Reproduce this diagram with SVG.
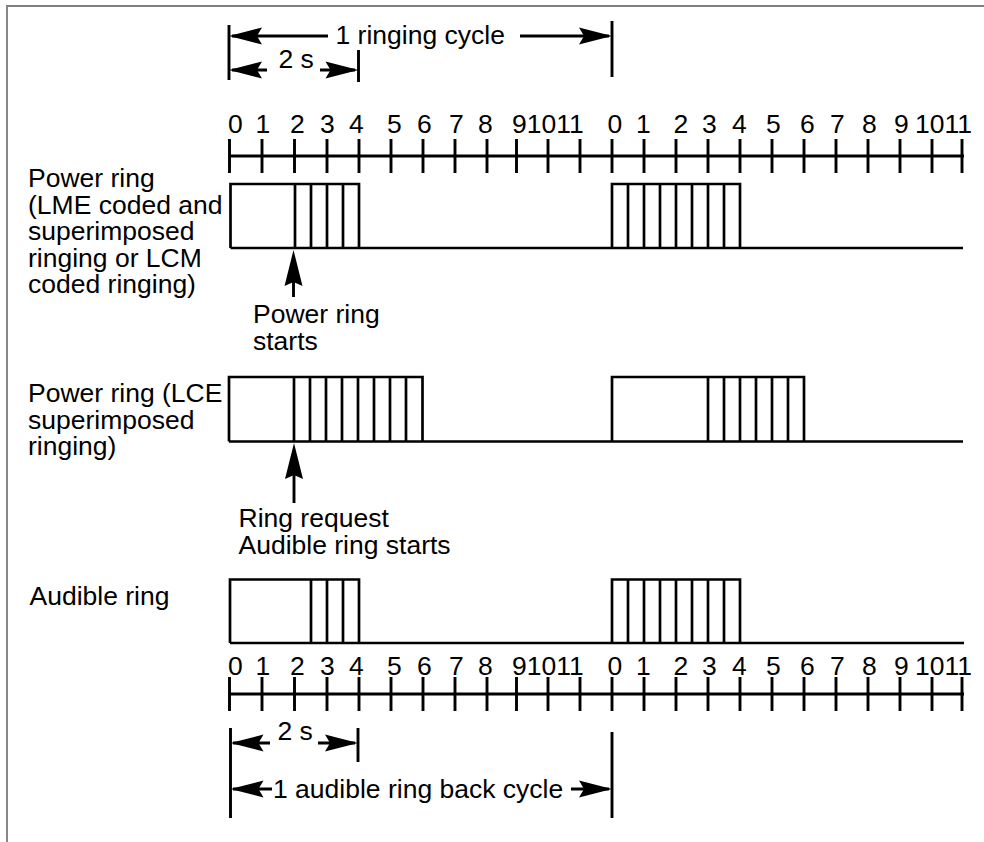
<svg xmlns="http://www.w3.org/2000/svg" xmlns:xlink="http://www.w3.org/1999/xlink" width="984" height="842" viewBox="0 0 984 842">
<style>
  text { font-family: "Liberation Sans", Arial, sans-serif; font-size: 26.5px; fill: #000; }
  .ln { stroke: #000; stroke-width: 2.9; fill: none; }
  .th { stroke: #000; stroke-width: 2.7; fill: none; }
  .ah { fill: #000; stroke: none; }
</style>
<defs>
  <path id="ahR" d="M0,0 L-33,-8.5 L-28,0 L-33,8.5 Z"/>
  <path id="ahUp" d="M0,0 L-9,36 L0,32 L9,36 Z"/>
  <path id="ticks" d="M229.5,-17 V17 M262,-17 V17 M294.5,-17 V17 M327,-17 V17 M359,-17 V17 M391,-17 V17 M423,-17 V17 M455,-17 V17 M487,-17 V17 M516.5,-17 V17 M548,-17 V17 M580,-17 V17 M612,-17 V17 M644,-17 V17 M676,-17 V17 M708,-17 V17 M740,-17 V17 M772,-17 V17 M804,-17 V17 M836,-17 V17 M868,-17 V17 M900,-17 V17 M932,-17 V17 M962,-17 V17 M229.5,0 H964"/>
</defs>

<g id="frame">
  <line x1="6" y1="6" x2="984" y2="6" stroke="#000" stroke-width="1.2"/>
  <line x1="7" y1="6" x2="7" y2="842" stroke="#888" stroke-width="2"/>
</g>

<g id="axis-top">
  <use xlink:href="#ticks" href="#ticks" class="ln" transform="translate(0,156)"/>
  <text y="133"><tspan x="228">0</tspan><tspan x="255.5">1</tspan><tspan x="290">2</tspan><tspan x="320">3</tspan><tspan x="349">4</tspan><tspan x="387">5</tspan><tspan x="417">6</tspan><tspan x="449">7</tspan><tspan x="478">8</tspan><tspan x="512">91011</tspan><tspan x="607.5">0</tspan><tspan x="636">1</tspan><tspan x="673.5">2</tspan><tspan x="702">3</tspan><tspan x="732">4</tspan><tspan x="766">5</tspan><tspan x="800">6</tspan><tspan x="830">7</tspan><tspan x="862">8</tspan><tspan x="894">9</tspan><tspan x="915">1011</tspan></text>
</g>

<g id="axis-bottom">
  <use xlink:href="#ticks" href="#ticks" class="ln" transform="translate(0,694)"/>
  <text y="675"><tspan x="228">0</tspan><tspan x="255.5">1</tspan><tspan x="290">2</tspan><tspan x="320">3</tspan><tspan x="349">4</tspan><tspan x="387">5</tspan><tspan x="417">6</tspan><tspan x="449">7</tspan><tspan x="478">8</tspan><tspan x="512">91011</tspan><tspan x="607.5">0</tspan><tspan x="636">1</tspan><tspan x="673.5">2</tspan><tspan x="702">3</tspan><tspan x="732">4</tspan><tspan x="766">5</tspan><tspan x="800">6</tspan><tspan x="830">7</tspan><tspan x="862">8</tspan><tspan x="894">9</tspan><tspan x="915">1011</tspan></text>
</g>

<g id="row-power-lme">
  <text><tspan x="28" y="187">Power ring</tspan><tspan x="28" y="213.5">(LME coded and</tspan><tspan x="28" y="240">superimposed</tspan><tspan x="28" y="266.5">ringing or LCM</tspan><tspan x="28" y="293">coded ringing)</tspan></text>
  <path class="th" d="M230.5,248 H963 M230.5,248 V184 H359 V248 M295,184 V248 M311,184 V248 M327,184 V248 M343,184 V248"/>
  <path class="th" d="M612,248 V184 H740 V248 M628,184 V248 M644,184 V248 M660,184 V248 M676,184 V248 M692,184 V248 M708,184 V248 M724,184 V248"/>
</g>

<g id="row-power-lce">
  <text><tspan x="28" y="402">Power ring (LCE</tspan><tspan x="28" y="428.5">superimposed</tspan><tspan x="28" y="455">ringing)</tspan></text>
  <path class="th" d="M229,441.5 H963 M229,441.5 V377 H422.5 V441.5 M294,377 V441.5 M310,377 V441.5 M326,377 V441.5 M342,377 V441.5 M358,377 V441.5 M374,377 V441.5 M390,377 V441.5 M406,377 V441.5"/>
  <path class="th" d="M612,441.5 V377 H804 V441.5 M708,377 V441.5 M724,377 V441.5 M740,377 V441.5 M756,377 V441.5 M772,377 V441.5 M788,377 V441.5"/>
</g>

<g id="row-audible">
  <text x="29.5" y="605">Audible ring</text>
  <path class="th" d="M230,643 H964 M230,643 V579.5 H359 V643 M311,579.5 V643 M327,579.5 V643 M343,579.5 V643"/>
  <path class="th" d="M612,643 V579.5 H740 V643 M628,579.5 V643 M644,579.5 V643 M660,579.5 V643 M676,579.5 V643 M692,579.5 V643 M708,579.5 V643 M724,579.5 V643"/>
</g>

<g id="label-power-ring-starts">
  <text><tspan x="253" y="323">Power ring</tspan><tspan x="253" y="350">starts</tspan></text>
</g>

<g id="label-ring-request">
  <text><tspan x="238.5" y="527">Ring request</tspan><tspan x="238.5" y="554">Audible ring starts</tspan></text>
</g>

<g id="dim-top">
  <text x="335.5" y="44">1 ringing cycle</text>
  <text x="278.5" y="68">2 s</text>
</g>

<g id="dim-bottom">
  <text x="277.5" y="740">2 s</text>
  <text x="273" y="797.5">1 audible ring back cycle</text>
</g>

<g id="connectors">
  <path class="ln" d="M229,25 V80 M612,21 V77 M358.5,50 V82"/>
  <path class="ln" d="M232,36 H328 M520,36 H609"/>
  <use xlink:href="#ahR" href="#ahR" class="ah" transform="translate(229,36) scale(-1,1)"/>
  <use xlink:href="#ahR" href="#ahR" class="ah" transform="translate(612,36)"/>
  <path class="ln" d="M232,70 H267 M320,70 H355"/>
  <use xlink:href="#ahR" href="#ahR" class="ah" transform="translate(229,70) scale(-1,1)"/>
  <use xlink:href="#ahR" href="#ahR" class="ah" transform="translate(358.5,70)"/>
  <path class="ln" d="M230.5,728 V818 M358,728 V762 M612,732 V818"/>
  <path class="ln" d="M233,743 H270 M318,743 H355"/>
  <use xlink:href="#ahR" href="#ahR" class="ah" transform="translate(230.5,743) scale(-1,1)"/>
  <use xlink:href="#ahR" href="#ahR" class="ah" transform="translate(358,743)"/>
  <path class="ln" d="M233,789 H272 M571,789 H609"/>
  <use xlink:href="#ahR" href="#ahR" class="ah" transform="translate(230.5,789) scale(-1,1)"/>
  <use xlink:href="#ahR" href="#ahR" class="ah" transform="translate(612,789)"/>
  <path class="ln" d="M293.5,297 V280"/>
  <use xlink:href="#ahUp" href="#ahUp" class="ah" transform="translate(293.5,250)"/>
  <path class="ln" d="M294,503 V470"/>
  <use xlink:href="#ahUp" href="#ahUp" class="ah" transform="translate(294,443)"/>
</g>
</svg>
